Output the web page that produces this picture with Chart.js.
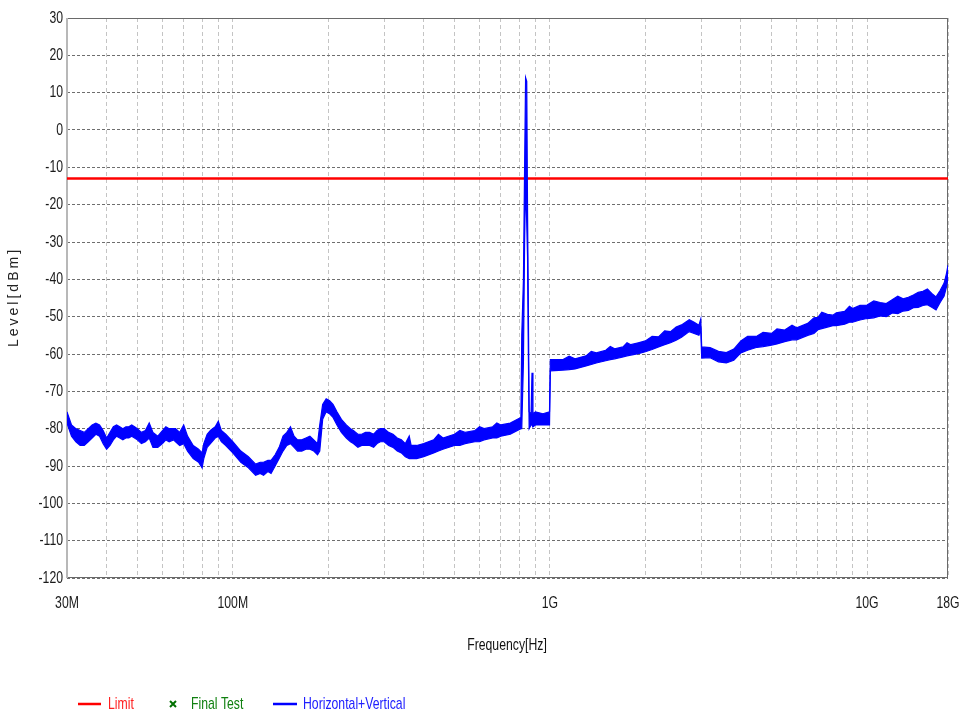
<!DOCTYPE html>
<html><head><meta charset="utf-8">
<script src="https://cdn.jsdelivr.net/npm/chart.js@4.4.0/dist/chart.umd.min.js"></script>
<style>html,body{margin:0;padding:0;background:#fff;}canvas{display:block}</style>
</head><body>
<canvas id="c" width="966" height="716"></canvas>
<script>
// Frequency points of the measured trace (MHz)
const freqMHz = [30,31,32,33,34,35,36,37,38,39,40,41,42,43,44,45,46,47,48,49,50,51.5,53,54.5,56,58,60,61.5,63,65,66,68,70,72,75,78,80,81,83,85,88,90,92,95,100,106,112,118,122,125,129,132,136,140,144,148,152,156,160,165,170,175,180,185,188,192,197,202,207,213,220,228,235,240,248,255,262,270,278,285,292,300,310,320,330,340,350,360,365,380,400,
  430,445,460,500,520,540,580,600,620,660,680,700,750,790,810,815,825,832,838,845,850,855,860,872,878,884,900,950,997,
  1003,1100,1150,1200,1300,1350,1400,1500,1550,1600,1700,1750,1800,1900,2000,2100,2200,2300,2400,2500,2600,2750,2850,2950,2990,3010,
  3200,3400,3600,3800,4000,4200,4500,4700,5000,5200,5500,5800,6000,6500,6800,7000,7200,7500,7800,8000,8500,8800,9000,9500,10000,10500,11000,11500,12000,12500,13000,13500,14000,14500,15000,15500,16000,16500,17000,17500,17800,18000];
// Upper edge of the Horizontal+Vertical trace band (dBm)
const upperDbm = [-75.5,-79,-80,-80.5,-81,-80,-79,-78.5,-79,-80.5,-82.5,-81,-79.5,-79,-79.5,-80,-79.5,-79.5,-79,-79.5,-80,-81,-80.5,-78.5,-81,-82,-80.5,-79.5,-80,-80,-80,-81,-79,-82,-84.5,-85.5,-86.5,-84,-81.5,-80.5,-79.5,-78,-80.5,-81.5,-83.5,-86,-87.5,-89.5,-89,-89,-88.5,-88.5,-87,-85,-82,-81,-79.5,-82,-83,-83,-82.5,-82,-83,-84,-79,-73.5,-72,-72.5,-73.5,-75.5,-77.5,-79,-80,-80.5,-81.5,-81.5,-81,-81,-81.5,-80.5,-80,-80,-81,-81.5,-82.5,-83,-84,-82,-84.5,-84.5,-84,
  -83,-81.5,-82.5,-81.5,-80.5,-81,-80.5,-79.5,-80,-79.5,-78.5,-79,-78.5,-77.5,-77,-55,-40,-10,14,13,-22,-48,-75.5,-76,-65,-76,-75.5,-76,-75.5,
  -61.5,-61.5,-60.6,-61.3,-60.5,-59.3,-59.7,-59,-58,-58.6,-58.1,-57,-57.5,-57,-56.5,-55.3,-55.4,-53.8,-54,-52.8,-52.2,-50.8,-51.5,-52.3,-50.6,-58.1,
  -58.3,-59.3,-59.6,-58.7,-56.5,-55.3,-55.2,-54.2,-54.5,-53.3,-53.6,-52.3,-53,-51.8,-50.3,-50.2,-48.8,-49.4,-49.6,-49,-48.6,-47.2,-47.8,-47,-46.9,-45.8,-46.2,-46.5,-45.5,-44.5,-45.2,-44.8,-44.2,-43.5,-43.2,-42.6,-43.8,-44.7,-43,-41,-38.5,-36.2];
// Lower edge of the Horizontal+Vertical trace band (dBm)
const lowerDbm = [-78.5,-82,-83.5,-84.5,-84.5,-83.5,-82.5,-81.5,-82,-84,-85.5,-84.5,-83,-82,-82.5,-83,-82.5,-82.5,-82,-82.5,-83,-84,-83.5,-82.5,-85,-85,-84,-83,-83.5,-83,-83.5,-84.5,-84,-86,-88,-89,-90.5,-88,-85,-84,-82.5,-82,-83.5,-84.5,-86.5,-89,-90.5,-92.5,-92,-92.5,-91.5,-92,-90,-88,-86,-84.5,-84,-85,-86,-86,-85.5,-85.5,-86,-87,-86,-77.5,-75.5,-76,-77,-79,-81,-82.5,-83.5,-84,-85,-84.5,-84.5,-84.5,-85,-84,-83.5,-83.5,-84.5,-85,-86,-86.5,-87.5,-88,-88,-88,-87.5,
  -86.5,-86,-85.5,-84.5,-84.5,-84,-83.5,-83.5,-83,-82.5,-82.5,-82,-81.5,-80.5,-80,-80,-62,-30,-14,-25,-34,-60,-80,-79,-79,-79.5,-79,-79,-79,
  -64.5,-64.3,-64.2,-64,-63.2,-62.8,-62.4,-61.8,-61.5,-61.3,-60.8,-60.5,-60.3,-59.9,-59.4,-58.8,-58.1,-57.5,-57,-56.3,-55.5,-54,-54.5,-55,-53.6,-61.1,
  -61,-62.1,-62.4,-61.7,-59.7,-59,-58.2,-58,-57.6,-57.3,-56.7,-56.2,-56.2,-55,-54.5,-53.5,-53.2,-52.8,-52.4,-52.4,-52,-51.5,-51.5,-50.9,-50.5,-50.3,-49.8,-50,-49,-49.2,-48.5,-48.3,-47.6,-47.5,-47,-46.8,-47.5,-48.2,-46.2,-44.5,-42,-39.5];
// Limit line
const limitFreqMHz = [30, 18000];
const limitDbm = [-13, -13];
// Axis ticks
const yTicks = [-120,-110,-100,-90,-80,-70,-60,-50,-40,-30,-20,-10,0,10,20,30];
const xGridMHz = [30,40,50,60,70,80,90,100,200,300,400,500,600,700,800,900,1000,2000,3000,4000,5000,6000,7000,8000,9000,10000,18000];
const xTickLabels = {30:'30M',100:'100M',1000:'1G',10000:'10G',18000:'18G'};

const pts = (xs, ys) => xs.map((x, i) => ({x: x, y: ys[i]}));

// narrow text (Arial-Narrow look): Liberation Sans squeezed horizontally
function nText(ctx, text, x, y, align, size, color) {
  ctx.save();
  ctx.translate(x, y);
  ctx.scale(0.72, 1);
  ctx.font = size + "px 'Liberation Sans', Arial, sans-serif";
  ctx.textAlign = align;
  ctx.textBaseline = 'middle';
  ctx.fillStyle = color;
  ctx.fillText(text, 0, 0);
  ctx.restore();
}

const decor = {
  id: 'decor',
  beforeDatasetsDraw(chart) {
    const {ctx, chartArea: a} = chart;
    ctx.save();
    ctx.lineWidth = 1;
    ctx.strokeStyle = '#6a6a6a';
    ctx.beginPath();
    ctx.moveTo(a.left, a.top + 0.5); ctx.lineTo(a.right, a.top + 0.5);
    ctx.moveTo(a.left, a.bottom - 0.5); ctx.lineTo(a.right, a.bottom - 0.5);
    ctx.moveTo(a.right - 0.5, a.top); ctx.lineTo(a.right - 0.5, a.bottom);
    ctx.stroke();
    ctx.strokeStyle = '#b8b8b8';
    ctx.lineWidth = 2;
    ctx.beginPath();
    ctx.moveTo(a.left, a.top); ctx.lineTo(a.left, a.bottom);
    ctx.stroke();
    ctx.restore();
  },
  afterDraw(chart) {
    const {ctx, chartArea: a} = chart;
    const xs = chart.scales.x, ys = chart.scales.y;
    ctx.save();
    // tick labels
    yTicks.forEach(v => nText(ctx, String(v), a.left - 4, ys.getPixelForValue(v), 'right', 17, '#1a1a1a'));
    Object.keys(xTickLabels).forEach(k => nText(ctx, xTickLabels[k], xs.getPixelForValue(Number(k)), 603, 'center', 17, '#1a1a1a'));
    // x title
    nText(ctx, 'Frequency[Hz]', 507, 645, 'center', 17, '#111');
    // y title
    ctx.save();
    ctx.translate(14, 297);
    ctx.rotate(-Math.PI / 2);
    ctx.font = "14px 'Liberation Sans', Arial, sans-serif";
    ctx.letterSpacing = '3px';
    ctx.textAlign = 'center';
    ctx.textBaseline = 'middle';
    ctx.fillStyle = '#222';
    ctx.fillText('Level[dBm]', 0, 0);
    ctx.restore();
    // legend
    const ly = 704;
    ctx.lineWidth = 2.5;
    ctx.strokeStyle = '#ff0000';
    ctx.beginPath(); ctx.moveTo(78, ly); ctx.lineTo(101, ly); ctx.stroke();
    nText(ctx, 'Limit', 108, ly, 'left', 17, '#ff2020');
    ctx.strokeStyle = '#007000';
    ctx.lineWidth = 2;
    ctx.beginPath();
    ctx.moveTo(170, ly - 3); ctx.lineTo(176, ly + 3);
    ctx.moveTo(176, ly - 3); ctx.lineTo(170, ly + 3);
    ctx.stroke();
    nText(ctx, 'Final Test', 191, ly, 'left', 17, '#108010');
    ctx.strokeStyle = '#0000ff';
    ctx.lineWidth = 2.5;
    ctx.beginPath(); ctx.moveTo(273, ly); ctx.lineTo(297, ly); ctx.stroke();
    nText(ctx, 'Horizontal+Vertical', 303, ly, 'left', 17, '#2020ff');
    ctx.restore();
  }
};

new Chart(document.getElementById('c'), {
  type: 'line',
  data: {
    datasets: [
      {label: 'Horizontal+Vertical', data: pts(freqMHz, upperDbm), borderColor: '#0000ff', backgroundColor: '#0000ff', borderWidth: 1.2, pointRadius: 0, tension: 0, fill: '+1'},
      {label: 'lower', data: pts(freqMHz, lowerDbm), borderColor: '#0000ff', borderWidth: 1.2, pointRadius: 0, tension: 0, fill: false},
      {label: 'Final Test', data: [], borderColor: '#008000', pointStyle: 'crossRot', showLine: false},
      {label: 'Limit', data: pts(limitFreqMHz, limitDbm), borderColor: '#ff0000', borderWidth: 2.5, pointRadius: 0, fill: false}
    ]
  },
  options: {
    responsive: false,
    animation: false,
    devicePixelRatio: 1,
    layout: {padding: {left: 0, right: 18, top: 18, bottom: 0}},
    plugins: {legend: {display: false}, tooltip: {enabled: false}},
    scales: {
      x: {
        type: 'logarithmic', min: 30, max: 18000,
        afterBuildTicks: s => { s.ticks = xGridMHz.map(v => ({value: v})); },
        afterFit: s => { s.height = 138; s.paddingLeft = 0; s.paddingRight = 0; },
        ticks: {display: false, autoSkip: false, maxRotation: 0, minRotation: 0},
        grid: {color: '#c4c4c4', drawTicks: false, lineWidth: 1},
        border: {display: false, dash: [4, 3]}
      },
      y: {
        min: -120, max: 30,
        afterBuildTicks: s => { s.ticks = yTicks.map(v => ({value: v})); },
        afterFit: s => { s.width = 67; s.paddingTop = 0; s.paddingBottom = 0; },
        ticks: {display: false},
        grid: {color: '#6e6e6e', drawTicks: false, lineWidth: 1},
        border: {display: false, dash: [3, 2]}
      }
    }
  },
  plugins: [decor]
});
</script>
</body></html>
